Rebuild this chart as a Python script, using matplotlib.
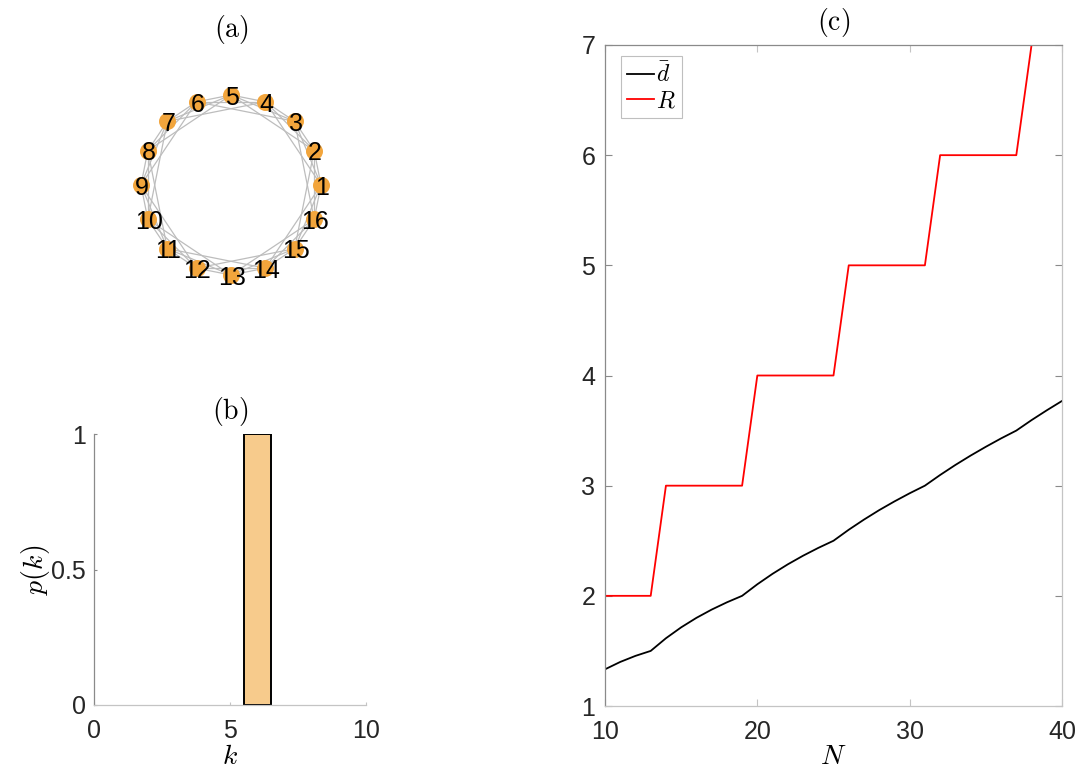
import numpy as np
import matplotlib
matplotlib.use('Agg')
import matplotlib.pyplot as plt

plt.rcParams['font.family'] = ['Liberation Sans', 'DejaVu Sans']
plt.rcParams['mathtext.fontset'] = 'cm'

# ring lattice: 16 nodes, each linked to 3 neighbours on either side
n_nodes = 16
neigh_offsets = [1, 2, 3]

# degree distribution
deg_k = [6]
deg_p = [1.0]

# mean distance and diameter against network size
N_vals = [10, 11, 12, 13, 14, 15, 16, 17, 18, 19, 20, 21, 22, 23, 24, 25,
          26, 27, 28, 29, 30, 31, 32, 33, 34, 35, 36, 37, 38, 39, 40]
d_mean = [1.333, 1.400, 1.455, 1.500, 1.615, 1.714, 1.800, 1.875, 1.941, 2.000,
          2.105, 2.200, 2.286, 2.364, 2.435, 2.500, 2.600, 2.692, 2.778, 2.857,
          2.931, 3.000, 3.097, 3.188, 3.273, 3.353, 3.429, 3.500, 3.595, 3.684,
          3.769]
R_vals = [2, 2, 2, 2, 3, 3, 3, 3, 3, 3, 4, 4, 4, 4, 4, 4,
          5, 5, 5, 5, 5, 5, 6, 6, 6, 6, 6, 6, 7, 7, 7]

node_col = '#F2A53C'
bar_col = '#F7CB8C'
spine_dark = '#8a8a8a'
spine_light = '#c4c4c4'
tick_txt = '#262626'

W, H = 1082, 773
fig = plt.figure(figsize=(W / 100, H / 100), dpi=100)


def px_axes(l, t, r, b):
    return fig.add_axes([l / W, (H - b) / H, (r - l) / W, (b - t) / H])


def style_axes(ax, ticklen, xpad, ypad, box=False):
    ax.spines['left'].set_color(spine_dark)
    ax.spines['bottom'].set_color(spine_light)
    ax.spines['top'].set_color(spine_dark)
    ax.spines['right'].set_color(spine_light)
    ax.spines['top'].set_visible(box)
    ax.spines['right'].set_visible(box)
    for s in ax.spines.values():
        s.set_linewidth(0.9)
    ax.tick_params(axis='both', direction='in', length=ticklen, width=0.8,
                   labelsize=18, labelcolor=tick_txt)
    ax.tick_params(axis='x', color=spine_light, pad=xpad, top=box)
    ax.tick_params(axis='y', color=spine_dark, pad=ypad, right=box)


# (a) circular layout of the ring lattice
axa = px_axes(121, 75, 341, 295)
ang = 2 * np.pi * np.arange(n_nodes) / n_nodes
xs, ys = np.cos(ang), np.sin(ang)
for i in range(n_nodes):
    for off in neigh_offsets:
        j = (i + off) % n_nodes
        axa.plot([xs[i], xs[j]], [ys[i], ys[j]], color='#bdbdbd', lw=0.9, zorder=1)
axa.scatter(xs, ys, s=150, color=node_col, zorder=2, linewidths=0)
for i in range(n_nodes):
    axa.text(xs[i] + 0.01, ys[i] - 0.03, str(i + 1), fontsize=18, color='black',
             ha='center', va='center', zorder=3)
axa.set_xlim(-1.222, 1.222)
axa.set_ylim(-1.222, 1.222)
axa.set_aspect('equal')
axa.axis('off')
axa.set_title(r'$\mathrm{(a)}$', fontsize=20, pad=27)

# (b) degree distribution
axb = px_axes(94, 434, 366, 705)
axb.bar(deg_k, deg_p, width=1.0, color=bar_col, edgecolor='black', linewidth=1.4)
axb.set_xlim(0, 10)
axb.set_ylim(0, 1)
axb.set_xticks([0, 5, 10])
axb.set_yticks([0, 0.5, 1])
axb.set_yticklabels(['0', '0.5', '1'])
style_axes(axb, 2.5, 10, 6)
axb.set_xlabel(r'$k$', fontsize=20, labelpad=1)
axb.set_ylabel(r'$p(k)$', fontsize=20, labelpad=-1)
axb.set_title(r'$\mathrm{(b)}$', fontsize=20, pad=11)

# (c) mean distance and diameter
axc = px_axes(605, 45, 1062, 706)
axc.plot(N_vals, d_mean, color='black', lw=1.3, label=r'$\bar{d}$')
axc.plot(N_vals, R_vals, color='red', lw=1.3, label=r'$R$')
axc.set_xlim(10, 40)
axc.set_ylim(1, 7)
axc.set_xticks([10, 20, 30, 40])
axc.set_yticks([1, 2, 3, 4, 5, 6, 7])
style_axes(axc, 5, 10, 7, box=True)
axc.set_xlabel(r'$N$', fontsize=20, labelpad=0)
axc.set_title(r'$\mathrm{(c)}$', fontsize=20, pad=11)
leg = axc.legend(loc='upper left', bbox_to_anchor=(0.035, 0.983), borderaxespad=0,
                 fontsize=17, handlelength=1.15, handletextpad=0.1,
                 borderpad=0.25, labelspacing=0.15, fancybox=False)
leg.get_frame().set_edgecolor('#b0b0b0')
leg.get_frame().set_linewidth(0.8)

fig.savefig('out.png', dpi=100)
